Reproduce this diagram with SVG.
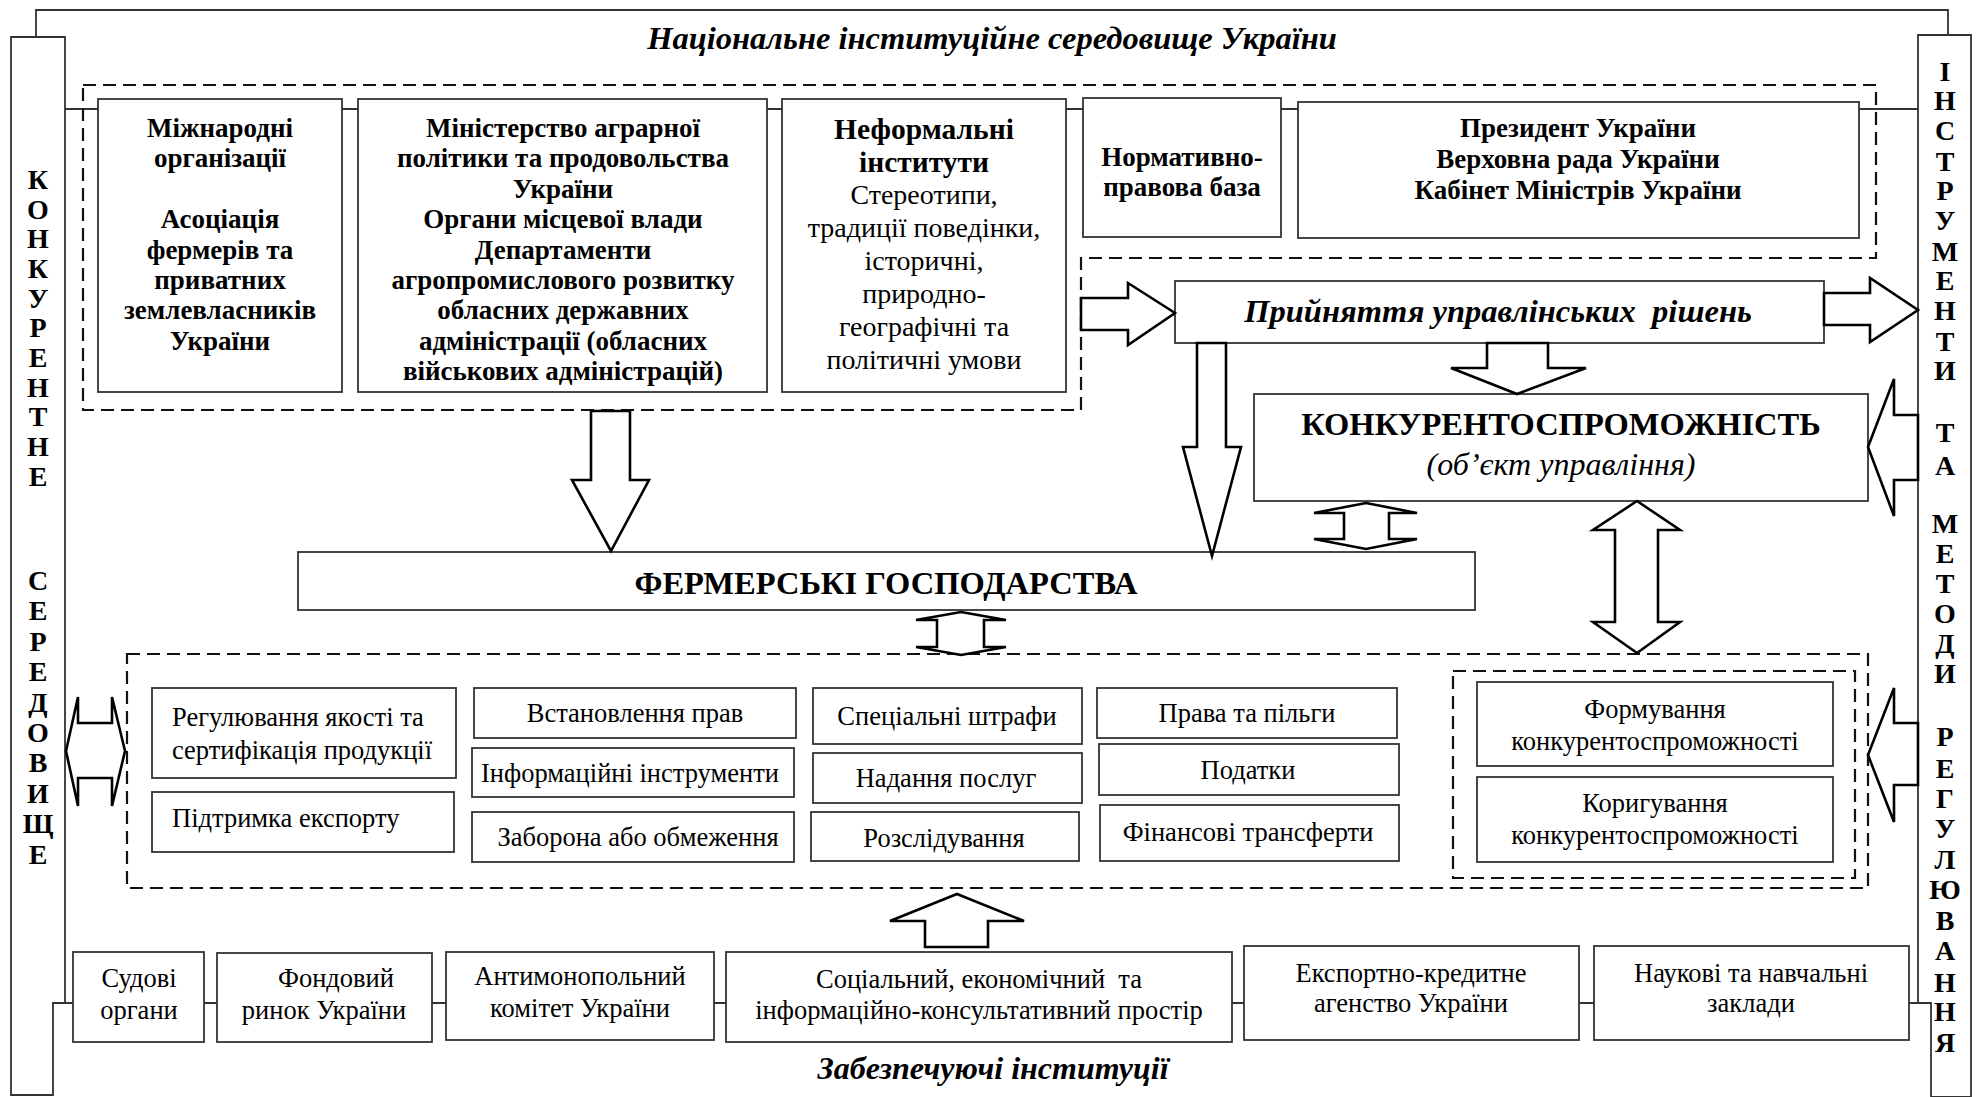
<svg xmlns="http://www.w3.org/2000/svg" width="1986" height="1097" viewBox="0 0 1986 1097">
<style>
.box{fill:#fff;stroke:#333;stroke-width:1.8}
.line{fill:none;stroke:#333;stroke-width:1.8}
.dash{fill:none;stroke:#111;stroke-width:2.2;stroke-dasharray:13 7}
.arr{fill:#fff;stroke:#000;stroke-width:2.6;stroke-linejoin:miter}
text{font-family:"Liberation Serif","Times New Roman",serif;fill:#000;text-anchor:middle}
.b{font-weight:bold;font-size:27px}
.r{font-size:26.5px}
.bi{font-weight:bold;font-style:italic}
.bar{font-weight:bold;font-size:28px}
.l{text-anchor:start}
</style>
<rect width="1986" height="1097" fill="#fff"/>

<g id="frame">
<path class="line" d="M36,37 V10 H1948 V35"/>
<path class="line" d="M65,109 H1918"/>
<path class="line" d="M53,1003 H1931"/>
</g>

<g id="title"><text class="bi" x="992" y="49" style="font-size:32.5px">Національне інституційне середовище України</text></g>
<g id="bottom-title"><text class="bi" x="993" y="1079" style="font-size:32px">Забезпечуючі інституції</text></g>

<g id="left-bar">
<path class="box" d="M11,37 H65 V1003 H53 V1095 H11 Z"/>
<g class="bar">
<text x="38" y="189">К</text><text x="38" y="219">О</text><text x="38" y="248">Н</text><text x="38" y="278">К</text><text x="38" y="308">У</text><text x="38" y="337">Р</text><text x="38" y="367">Е</text><text x="38" y="397">Н</text><text x="38" y="426">Т</text><text x="38" y="456">Н</text><text x="38" y="486">Е</text>
<text x="38" y="590">С</text><text x="38" y="620">Е</text><text x="38" y="651">Р</text><text x="38" y="681">Е</text><text x="38" y="712">Д</text><text x="38" y="742">О</text><text x="38" y="772">В</text><text x="38" y="803">И</text><text x="38" y="833">Щ</text><text x="38" y="864">Е</text>
</g>
</g>

<g id="right-bar">
<path class="box" d="M1918,35 H1971 V1097 H1931 V1003 H1918 Z"/>
<g class="bar">
<text x="1945" y="81">І</text><text x="1945" y="110">Н</text><text x="1945" y="140">С</text><text x="1945" y="171">Т</text><text x="1945" y="200">Р</text><text x="1945" y="230">У</text><text x="1945" y="261">М</text><text x="1945" y="290">Е</text><text x="1945" y="320">Н</text><text x="1945" y="351">Т</text><text x="1945" y="380">И</text>
<text x="1945" y="442">Т</text><text x="1945" y="475">А</text>
<text x="1945" y="533">М</text><text x="1945" y="563">Е</text><text x="1945" y="593">Т</text><text x="1945" y="623">О</text><text x="1945" y="653">Д</text><text x="1945" y="683">И</text>
<text x="1945" y="746">Р</text><text x="1945" y="778">Е</text><text x="1945" y="808">Г</text><text x="1945" y="838">У</text><text x="1945" y="869">Л</text><text x="1945" y="899">Ю</text><text x="1945" y="930">В</text><text x="1945" y="960">А</text><text x="1945" y="992">Н</text><text x="1945" y="1021">Н</text><text x="1945" y="1052">Я</text>
</g>
</g>

<g id="groups">
<path class="dash" d="M83,85 H1876 V258 H1081 V410 H83 Z"/>
<rect class="dash" x="127" y="654" width="1741" height="234"/>
<rect class="dash" x="1453" y="671" width="402" height="207"/>
</g>

<g id="intl">
<rect class="box" x="98" y="99" width="244" height="293"/>
<g class="b">
<text x="220" y="137">Міжнародні</text><text x="220" y="167">організації</text>
<text x="220" y="228">Асоціація</text><text x="220" y="259">фермерів та</text><text x="220" y="289">приватних</text><text x="220" y="319">землевласників</text><text x="220" y="350">України</text>
</g>
</g>

<g id="ministry">
<rect class="box" x="358" y="99" width="409" height="293"/>
<g class="b">
<text x="563" y="137">Міністерство аграрної</text><text x="563" y="167">політики та продовольства</text><text x="563" y="198">України</text><text x="563" y="228">Органи місцевої влади</text><text x="563" y="259">Департаменти</text><text x="563" y="289">агропромислового розвитку</text><text x="563" y="319">обласних державних</text><text x="563" y="350">адміністрації (обласних</text><text x="563" y="380">військових адміністрацій)</text>
</g>
</g>

<g id="informal">
<rect class="box" x="782" y="99" width="284" height="293"/>
<text class="b" x="924" y="139" style="font-size:29.5px">Неформальні</text>
<text class="b" x="924" y="172" style="font-size:29.5px">інститути</text>
<text x="924" y="204" font-size="28">Стереотипи,</text><text x="924" y="237" font-size="28">традиції поведінки,</text><text x="924" y="270" font-size="28">історичні,</text><text x="924" y="303" font-size="28">природно-</text><text x="924" y="336" font-size="28">географічні та</text><text x="924" y="369" font-size="28">політичні умови</text>
</g>

<g id="normative">
<rect class="box" x="1083" y="98" width="198" height="139"/>
<text class="b" x="1182" y="166">Нормативно-</text><text class="b" x="1182" y="196">правова база</text>
</g>

<g id="president">
<rect class="box" x="1298" y="102" width="561" height="136"/>
<text class="b" x="1578" y="137">Президент України</text><text class="b" x="1578" y="168">Верховна рада України</text><text class="b" x="1578" y="199">Кабінет Міністрів України</text>
</g>

<g id="decisions">
<rect class="box" x="1175" y="281" width="649" height="62"/>
<text class="bi" x="1498" y="322" style="font-size:32.5px" xml:space="preserve">Прийняття управлінських  рішень</text>
</g>

<g id="competitiveness">
<rect class="box" x="1254" y="394" width="614" height="107"/>
<text class="b" x="1561" y="435" style="font-size:32.5px">КОНКУРЕНТОСПРОМОЖНІСТЬ</text>
<text x="1561" y="475" style="font-size:32px;font-style:italic">(об’єкт управління)</text>
</g>

<g id="farms">
<rect class="box" x="298" y="552" width="1177" height="58"/>
<text class="b" x="886" y="594" style="font-size:32.5px">ФЕРМЕРСЬКІ ГОСПОДАРСТВА</text>
</g>

<g id="instruments">
<g id="quality"><rect class="box" x="152" y="688" width="304" height="90"/><text class="r l" x="172" y="726">Регулювання якості та</text><text class="r l" x="172" y="759">сертифікація продукції</text></g>
<g id="export"><rect class="box" x="152" y="792" width="302" height="60"/><text class="r l" x="172" y="827">Підтримка експорту</text></g>
<g id="rights"><rect class="box" x="474" y="688" width="322" height="50"/><text class="r" x="635" y="722">Встановлення прав</text></g>
<g id="info"><rect class="box" x="472" y="748" width="322" height="49"/><text class="r" x="630" y="782">Інформаційні інструменти</text></g>
<g id="ban"><rect class="box" x="472" y="812" width="322" height="50"/><text class="r" x="638" y="846">Заборона або обмеження</text></g>
<g id="fines"><rect class="box" x="813" y="688" width="269" height="56"/><text class="r" x="947" y="725">Спеціальні штрафи</text></g>
<g id="services"><rect class="box" x="813" y="753" width="269" height="50"/><text class="r" x="946" y="787">Надання послуг</text></g>
<g id="investigation"><rect class="box" x="811" y="812" width="268" height="49"/><text class="r" x="944" y="847">Розслідування</text></g>
<g id="benefits"><rect class="box" x="1097" y="688" width="300" height="50"/><text class="r" x="1247" y="722">Права та пільги</text></g>
<g id="taxes"><rect class="box" x="1099" y="744" width="300" height="51"/><text class="r" x="1248" y="779">Податки</text></g>
<g id="transfers"><rect class="box" x="1100" y="805" width="299" height="56"/><text class="r" x="1248" y="841">Фінансові трансферти</text></g>
<g id="forming"><rect class="box" x="1477" y="682" width="356" height="84"/><text class="r" x="1655" y="718">Формування</text><text class="r" x="1655" y="750">конкурентоспроможності</text></g>
<g id="correcting"><rect class="box" x="1477" y="777" width="356" height="85"/><text class="r" x="1655" y="812">Коригування</text><text class="r" x="1655" y="844">конкурентоспроможності</text></g>
</g>

<g id="supporting">
<g id="courts"><rect class="box" x="73" y="952" width="131" height="90"/><text class="r" x="139" y="987">Судові</text><text class="r" x="139" y="1019">органи</text></g>
<g id="stock"><rect class="box" x="217" y="953" width="215" height="89"/><text class="r" x="336" y="987">Фондовий</text><text class="r" x="324" y="1019">ринок України</text></g>
<g id="antimonopoly"><rect class="box" x="446" y="952" width="268" height="88"/><text class="r" x="580" y="985">Антимонопольний</text><text class="r" x="580" y="1017">комітет України</text></g>
<g id="social"><rect class="box" x="726" y="952" width="506" height="90"/><text class="r" x="979" y="988" xml:space="preserve">Соціальний, економічний  та</text><text class="r" x="979" y="1019">інформаційно-консультативний простір</text></g>
<g id="eca"><rect class="box" x="1244" y="946" width="335" height="94"/><text class="r" x="1411" y="982">Експортно-кредитне</text><text class="r" x="1411" y="1012">агенство України</text></g>
<g id="science"><rect class="box" x="1594" y="946" width="315" height="94"/><text class="r" x="1751" y="982">Наукові та навчальні</text><text class="r" x="1751" y="1012">заклади</text></g>
</g>

<g id="connectors">
<polygon class="arr" points="591,411 630,411 630,480 649,480 611,551 572,480 591,480"/>
<polygon class="arr" points="1197,343 1226,343 1226,447 1241,447 1212,556 1183,447 1197,447"/>
<polygon class="arr" points="1081,298 1128,298 1128,283 1175,313 1128,345 1128,330 1081,330"/>
<polygon class="arr" points="1824,293 1870,293 1870,278 1918,310 1870,342 1870,325 1824,325"/>
<polygon class="arr" points="1487,343 1548,343 1548,368 1586,368 1517,394 1451,368 1487,368"/>
<polygon class="arr" points="1918,415 1894,415 1894,379 1868,447 1894,516 1894,480 1918,480"/>
<polygon class="arr" points="1918,723 1894,723 1894,688 1868,755 1894,822 1894,785 1918,785"/>
<polygon class="arr" points="961,612 1006,620 984,620 984,647 1006,647 961,655 916,647 937,647 937,620 916,620"/>
<polygon class="arr" points="1366,503 1417,513 1389,513 1389,539 1417,539 1366,549 1314,539 1344,539 1344,513 1314,513"/>
<polygon class="arr" points="1637,501 1680,530 1658,530 1658,622 1680,622 1637,653 1593,622 1615,622 1615,530 1593,530"/>
<polygon class="arr" points="66,751 78,697 78,723 112,723 112,697 125,751 112,806 112,778 78,778 78,806"/>
<polygon class="arr" points="957,894 1024,921 988,921 988,947 925,947 925,921 890,921"/>
</g>
</svg>
